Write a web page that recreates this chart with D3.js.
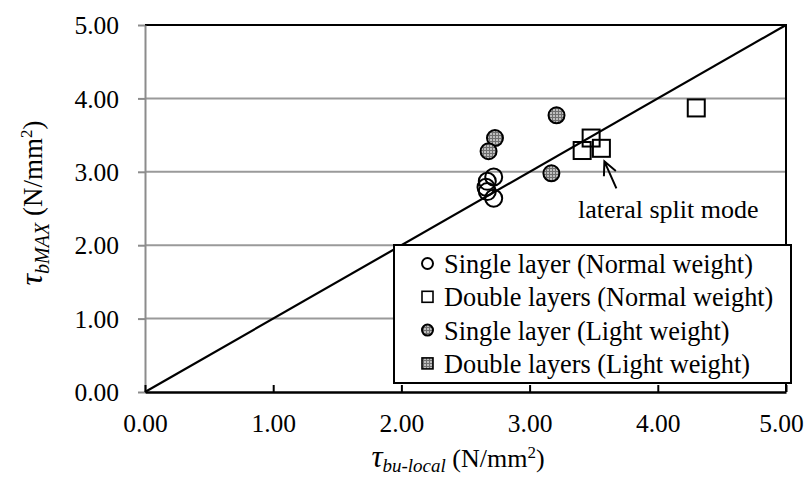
<!DOCTYPE html>
<html>
<head>
<meta charset="utf-8">
<script src="https://cdn.jsdelivr.net/npm/d3@7"></script>
<style>
  html, body { margin: 0; padding: 0; background: #fff; }
  svg { display: block; }
  svg text { font-family: "Liberation Serif", "Times New Roman", Times, "DejaVu Serif", serif; }
</style>
</head>
<body>
<svg id="chart" width="807" height="477"></svg>
<script>
// Bond strength: measured maximum vs. local bond strength (N/mm²)
const tickValues = [0, 1, 2, 3, 4, 5];

const singleNormalX = [2.72, 2.67, 2.66, 2.67, 2.72];
const singleNormalY = [2.93, 2.87, 2.79, 2.73, 2.64];

const doubleNormalX = [3.48, 3.41, 3.56, 4.30];
const doubleNormalY = [3.46, 3.29, 3.32, 3.87];

const singleLightX = [3.21, 2.73, 2.68, 3.17];
const singleLightY = [3.77, 3.46, 3.28, 2.98];

const doubleLightX = [];
const doubleLightY = [];

const legendLabels = [
  "Single layer (Normal weight)",
  "Double layers (Normal weight)",
  "Single layer (Light weight)",
  "Double layers (Light weight)"
];

const annotationText = "lateral split mode";
const annotatedPoint = { x: 3.56, y: 3.32 };

const svg = d3.select("#chart");
const plotLeft = 145, plotRight = 786, plotTop = 25, plotBottom = 392;

const x = d3.scaleLinear().domain([0, 5]).range([plotLeft, plotRight]);
const y = d3.scaleLinear().domain([0, 5]).range([plotBottom, plotTop]);

// hatched grey fill for light-weight concrete specimens
const defs = svg.append("defs");
const pat = defs.append("pattern")
  .attr("id", "hatch").attr("patternUnits", "userSpaceOnUse")
  .attr("width", 3).attr("height", 3);
pat.append("rect").attr("width", 3).attr("height", 3).attr("fill", "#bdbdbd");
pat.append("rect").attr("x", 0).attr("y", 0).attr("width", 3).attr("height", 1).attr("fill", "#6e6e6e");
pat.append("rect").attr("x", 0).attr("y", 0).attr("width", 1).attr("height", 3).attr("fill", "#6e6e6e");

// horizontal gridlines
svg.append("g").selectAll("line")
  .data(tickValues.filter(d => d > 0 && d < 5))
  .join("line")
  .attr("x1", plotLeft).attr("x2", plotRight)
  .attr("y1", d => y(d)).attr("y2", d => y(d))
  .attr("stroke", "#9a9a9a").attr("stroke-width", 2);

// plot frame: top and right edges
svg.append("path")
  .attr("d", `M${plotLeft},${plotTop}H${plotRight}V${plotBottom}`)
  .attr("fill", "none").attr("stroke", "#000").attr("stroke-width", 2);

// y axis (grey)
const yAxis = svg.append("g")
  .attr("transform", `translate(${plotLeft},0)`)
  .call(d3.axisLeft(y).tickValues(tickValues).tickFormat(d3.format(".2f"))
    .tickSize(7).tickSizeOuter(0).tickPadding(19));
yAxis.attr("font-family", null).attr("font-size", null);
yAxis.select(".domain").attr("stroke", "#8c8c8c").attr("stroke-width", 2);
yAxis.selectAll(".tick line").attr("stroke", "#8c8c8c").attr("stroke-width", 2);
yAxis.selectAll(".tick text")
  .attr("font-size", 25.5).attr("fill", "#000")
  .attr("dy", "0.34em");

// x axis (black, ticks inside)
const xAxis = svg.append("g")
  .attr("transform", `translate(0,${plotBottom})`)
  .call(d3.axisBottom(x).tickValues(tickValues).tickFormat(d3.format(".2f"))
    .tickSize(-7).tickSizeOuter(0));
xAxis.attr("font-family", null).attr("font-size", null);
xAxis.select(".domain").attr("stroke", "#000").attr("stroke-width", 2.5);
xAxis.selectAll(".tick line").attr("stroke", "#000").attr("stroke-width", 2);
xAxis.selectAll(".tick text")
  .attr("font-size", 25.5).attr("fill", "#000")
  .attr("y", 40).attr("dy", 0)
  .attr("x", d => d === 5 ? -5 : 0);

// 1:1 reference line
svg.append("line")
  .attr("x1", x(0)).attr("y1", y(0)).attr("x2", x(5)).attr("y2", y(5))
  .attr("stroke", "#000").attr("stroke-width", 2.2);

// data markers
const zip = (xs, ys) => xs.map((v, i) => ({ x: v, y: ys[i] }));
const R = 8.5, S = 17;

svg.append("g").selectAll("circle")
  .data(zip(singleNormalX, singleNormalY)).join("circle")
  .attr("cx", d => x(d.x)).attr("cy", d => y(d.y)).attr("r", R)
  .attr("fill", "none").attr("stroke", "#000").attr("stroke-width", 2);

svg.append("g").selectAll("rect")
  .data(zip(doubleNormalX, doubleNormalY)).join("rect")
  .attr("x", d => x(d.x) - S / 2).attr("y", d => y(d.y) - S / 2)
  .attr("width", S).attr("height", S)
  .attr("fill", "none").attr("stroke", "#000").attr("stroke-width", 2);

svg.append("g").selectAll("circle")
  .data(zip(singleLightX, singleLightY)).join("circle")
  .attr("cx", d => x(d.x)).attr("cy", d => y(d.y)).attr("r", R - 0.5)
  .attr("fill", "url(#hatch)").attr("stroke", "#000").attr("stroke-width", 2);

svg.append("g").selectAll("rect")
  .data(zip(doubleLightX, doubleLightY)).join("rect")
  .attr("x", d => x(d.x) - S / 2).attr("y", d => y(d.y) - S / 2)
  .attr("width", S).attr("height", S)
  .attr("fill", "url(#hatch)").attr("stroke", "#000").attr("stroke-width", 2);

// annotation arrow and label
const ax = x(annotatedPoint.x), ay = y(annotatedPoint.y);
const tip = [ax + 3, ay + 13], tail = [ax + 15, ay + 40];
const ang = Math.atan2(tip[1] - tail[1], tip[0] - tail[0]);
const hl = 15, ha = 0.45;
svg.append("path")
  .attr("d",
    `M${tail[0]},${tail[1]}L${tip[0]},${tip[1]}` +
    `M${tip[0] - hl * Math.cos(ang - ha)},${tip[1] - hl * Math.sin(ang - ha)}L${tip[0]},${tip[1]}` +
    `L${tip[0] - hl * Math.cos(ang + ha)},${tip[1] - hl * Math.sin(ang + ha)}`)
  .attr("fill", "none").attr("stroke", "#000").attr("stroke-width", 2);
svg.append("text")
  .attr("x", 578).attr("y", 218)
  .attr("font-size", 26).attr("fill", "#000")
  .text(annotationText);

// legend
const lg = svg.append("g");
lg.append("rect")
  .attr("x", 394).attr("y", 245).attr("width", 397).attr("height", 138)
  .attr("fill", "#fff").attr("stroke", "#000").attr("stroke-width", 2);
const rowY = i => 263.5 + i * 33.3;
legendLabels.forEach((label, i) => {
  const cy = rowY(i), cx = 427.5;
  if (i % 2 === 0) {
    lg.append("circle").attr("cx", cx).attr("cy", cy).attr("r", 5.5)
      .attr("fill", i === 2 ? "url(#hatch)" : "none")
      .attr("stroke", "#000").attr("stroke-width", 2);
  } else {
    lg.append("rect").attr("x", cx - 5.5).attr("y", cy - 5.5)
      .attr("width", 11).attr("height", 11)
      .attr("fill", i === 3 ? "url(#hatch)" : "none")
      .attr("stroke", "#000").attr("stroke-width", 1.6);
  }
  lg.append("text").attr("x", 444).attr("y", cy + 9.5)
    .attr("font-size", 26.3).attr("fill", "#000").text(label);
});

// axis titles
const xt = svg.append("text")
  .attr("x", 458).attr("y", 467).attr("text-anchor", "middle")
  .attr("font-size", 26).attr("fill", "#000");
xt.append("tspan").attr("font-style", "italic").attr("font-size", 31).text("τ");
xt.append("tspan").attr("font-style", "italic").attr("font-size", 19).attr("dy", 5).text("bu-local");
xt.append("tspan").attr("dy", -5).text(" (N/mm");
xt.append("tspan").attr("font-size", 17).attr("dy", -9).text("2");
xt.append("tspan").attr("dy", 9).text(")");

const yt = svg.append("text")
  .attr("transform", "translate(42,203) rotate(-90)")
  .attr("text-anchor", "middle")
  .attr("font-size", 27).attr("fill", "#000");
yt.append("tspan").attr("font-style", "italic").attr("font-size", 32).text("τ");
yt.append("tspan").attr("font-style", "italic").attr("font-size", 20).attr("dy", 7).text("bMAX");
yt.append("tspan").attr("dy", -7).text(" (N/mm");
yt.append("tspan").attr("font-size", 17).attr("dy", -10).text("2");
yt.append("tspan").attr("dy", 10).text(")");
</script>
</body>
</html>
